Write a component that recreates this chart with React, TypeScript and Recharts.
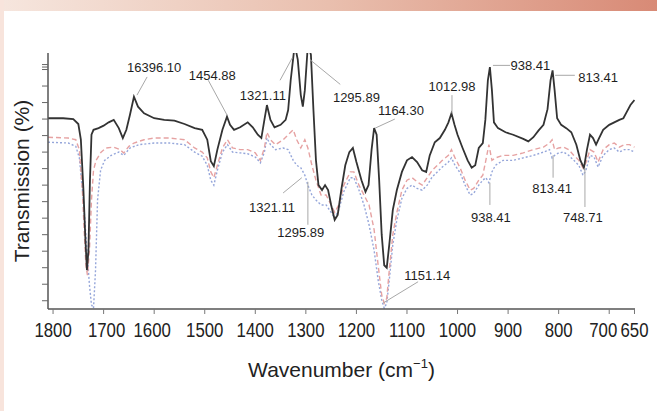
import { LineChart, Line, XAxis, YAxis, ReferenceLine, ReferenceDot } from "recharts";

// FTIR spectra, [wavenumber (cm-1), transmission (arb. units)]
const solidTrace: [number, number][] = [
  [1810, 23.1], [1780, 23.1], [1760, 23.0], [1750, 22.4], [1745, 20.5], [1740, 14.5],
  [1736, 8.4], [1733, 4.7], [1730, 7.1], [1727, 15.6], [1724, 21.1], [1720, 21.7],
  [1710, 21.9], [1700, 22.2], [1690, 22.6], [1680, 22.9], [1670, 21.9], [1662, 20.7],
  [1655, 21.7], [1648, 23.5], [1640, 25.7], [1632, 24.5], [1620, 23.7], [1600, 23.1],
  [1580, 22.9], [1560, 22.8], [1540, 22.4], [1520, 21.9], [1505, 21.7], [1495, 20.5],
  [1488, 17.9], [1482, 17.3], [1475, 19.3], [1465, 21.7], [1456, 23.3], [1450, 22.3],
  [1442, 21.7], [1430, 22.0], [1415, 22.6], [1405, 22.0], [1395, 21.1], [1388, 20.7],
  [1382, 22.9], [1377, 24.7], [1370, 22.9], [1362, 22.0], [1350, 22.3], [1340, 22.9],
  [1335, 24.1], [1330, 27.7], [1322, 32.0], [1316, 30.2], [1310, 25.9], [1306, 24.5],
  [1302, 26.5], [1296, 32.0], [1290, 30.8], [1285, 24.1], [1280, 18.0], [1275, 15.0],
  [1268, 14.4], [1262, 15.0], [1256, 14.4], [1250, 12.6], [1243, 10.8], [1237, 11.4],
  [1230, 14.4], [1222, 17.4], [1214, 19.0], [1207, 19.5], [1200, 17.8], [1190, 15.6],
  [1182, 14.2], [1176, 15.0], [1170, 19.3], [1165, 21.9], [1160, 21.1], [1155, 15.6],
  [1150, 9.0], [1145, 5.3], [1140, 5.0], [1135, 7.8], [1128, 12.0], [1120, 14.4],
  [1110, 16.6], [1100, 18.0], [1090, 18.4], [1080, 17.8], [1070, 16.8], [1062, 16.6],
  [1055, 18.6], [1045, 20.2], [1035, 20.7], [1025, 21.7], [1018, 22.6], [1012, 23.7],
  [1006, 22.3], [1000, 21.1], [990, 19.5], [980, 18.0], [972, 17.1], [965, 17.4],
  [958, 19.5], [950, 20.1], [945, 22.9], [940, 27.7], [936, 29.3], [932, 26.5],
  [928, 22.6], [920, 21.9], [905, 21.4], [890, 21.1], [870, 20.6], [860, 20.3],
  [850, 20.8], [840, 21.6], [830, 22.3], [822, 24.2], [816, 27.7], [812, 28.9],
  [808, 26.5], [803, 23.1], [795, 22.3], [785, 21.9], [775, 21.4], [765, 19.9],
  [757, 18.0], [750, 17.1], [744, 19.3], [738, 21.1], [732, 20.7], [726, 19.9],
  [720, 20.7], [712, 21.7], [700, 22.3], [690, 22.6], [680, 22.9], [672, 23.1],
  [665, 23.9], [658, 24.7], [650, 25.3],
];

const dashedTrace: [number, number][] = [
  [1810, 20.8], [1770, 20.7], [1755, 20.5], [1748, 19.3], [1742, 14.4], [1738, 9.0],
  [1735, 5.3], [1732, 4.1], [1728, 7.1], [1724, 13.2], [1720, 16.8], [1715, 18.0],
  [1705, 19.0], [1695, 19.5], [1680, 19.6], [1668, 19.3], [1660, 18.9], [1650, 19.7],
  [1640, 20.1], [1620, 20.5], [1600, 20.7], [1570, 20.7], [1540, 20.5], [1520, 19.5],
  [1505, 19.0], [1495, 18.3], [1488, 16.6], [1482, 15.9], [1475, 17.4], [1465, 19.5],
  [1455, 20.5], [1445, 19.5], [1430, 19.3], [1415, 19.3], [1400, 18.9], [1390, 18.0],
  [1382, 19.5], [1377, 21.4], [1370, 20.5], [1360, 19.9], [1345, 20.5], [1335, 21.1],
  [1325, 21.7], [1318, 20.5], [1310, 19.5], [1302, 20.5], [1296, 19.5], [1288, 17.4],
  [1280, 15.6], [1270, 13.8], [1260, 13.8], [1250, 12.6], [1243, 11.7], [1235, 12.6],
  [1225, 15.0], [1212, 16.6], [1205, 16.6], [1195, 15.0], [1185, 13.8], [1175, 12.6],
  [1165, 9.6], [1157, 5.3], [1150, 1.7], [1145, 0.7], [1140, 1.3], [1135, 4.7],
  [1128, 9.0], [1120, 11.7], [1110, 14.4], [1100, 15.6], [1090, 15.9], [1080, 15.4],
  [1070, 15.0], [1060, 15.9], [1050, 16.8], [1040, 17.4], [1030, 18.0], [1018, 18.6],
  [1012, 19.3], [1005, 18.3], [995, 17.1], [985, 15.6], [975, 14.4], [968, 14.6],
  [958, 15.6], [950, 16.2], [944, 18.0], [938, 19.9], [932, 18.0], [925, 18.3],
  [910, 18.6], [890, 18.6], [870, 18.9], [850, 19.3], [830, 19.6], [818, 20.1],
  [813, 20.5], [808, 19.3], [800, 19.5], [790, 19.6], [780, 19.3], [770, 18.6],
  [760, 18.0], [752, 17.1], [746, 17.7], [738, 19.3], [730, 19.0], [722, 17.8],
  [712, 19.3], [700, 19.9], [690, 20.1], [680, 19.6], [670, 19.9], [660, 19.9],
  [650, 19.6],
];

const dottedTrace: [number, number][] = [
  [1810, 20.2], [1770, 20.1], [1755, 19.7], [1748, 18.3], [1740, 13.2], [1733, 7.1],
  [1728, 2.9], [1724, 0.5], [1720, 0.1], [1716, 4.7], [1712, 13.2], [1706, 16.8],
  [1698, 18.0], [1685, 18.6], [1670, 19.0], [1660, 18.6], [1648, 19.5], [1630, 19.9],
  [1600, 20.1], [1570, 20.1], [1540, 19.9], [1520, 19.0], [1505, 18.5], [1495, 17.4],
  [1488, 15.6], [1482, 15.0], [1475, 16.8], [1465, 19.0], [1455, 19.9], [1445, 19.0],
  [1430, 18.9], [1415, 18.8], [1400, 18.4], [1390, 17.7], [1382, 19.0], [1377, 20.7],
  [1370, 19.9], [1360, 19.3], [1345, 19.5], [1335, 19.3], [1325, 18.0], [1318, 17.4],
  [1310, 17.1], [1302, 16.2], [1296, 15.0], [1288, 13.8], [1280, 13.2], [1270, 12.6],
  [1260, 12.6], [1250, 11.7], [1243, 11.0], [1235, 12.0], [1225, 14.2], [1212, 15.9],
  [1205, 15.9], [1195, 14.4], [1185, 12.6], [1175, 10.2], [1165, 7.1], [1157, 3.5],
  [1150, 1.1], [1145, 0.1], [1140, 0.7], [1135, 3.5], [1128, 7.8], [1120, 10.8],
  [1110, 13.4], [1100, 14.6], [1090, 15.0], [1080, 14.6], [1070, 14.4], [1060, 15.0],
  [1050, 16.0], [1040, 16.6], [1030, 17.2], [1018, 17.8], [1012, 18.3], [1005, 17.4],
  [995, 16.5], [985, 15.0], [975, 13.8], [968, 14.0], [958, 15.0], [950, 15.6],
  [944, 15.9], [938, 15.3], [932, 16.6], [925, 17.4], [910, 18.0], [890, 18.0],
  [870, 18.3], [850, 18.6], [830, 19.0], [818, 19.3], [813, 18.3], [808, 18.6],
  [800, 18.9], [790, 19.0], [780, 18.6], [770, 18.0], [760, 17.4], [752, 16.2],
  [746, 16.8], [738, 18.6], [730, 18.4], [722, 17.2], [712, 18.6], [700, 19.3],
  [690, 19.5], [680, 19.0], [670, 19.3], [660, 19.3], [650, 19.0],
];

const xTicks = [1800, 1700, 1600, 1500, 1400, 1300, 1200, 1100, 1000, 900, 800, 700, 650];
const yTicks = [1, 3, 5, 7, 9, 11, 13, 15, 17, 19, 21, 23, 25, 27, 29, 29.3, 29.6];

// peak annotations: text, label centre and leader line, in data units
const peakNotes = [
  { text: "16396.10", at: [1600, 29.3], from: [1614, 28.1], to: [1634, 25.9] },
  { text: "1454.88", at: [1485, 28.3], from: [1493, 27.7], to: [1456, 23.5] },
  { text: "1321.11", at: [1385, 25.9], from: [1351, 27.7], to: [1327, 30.4] },
  { text: "1295.89", at: [1200, 25.6], from: [1292, 30.2], to: [1232, 27.2] },
  { text: "1164.30", at: [1112, 24.1], from: [1163, 21.9], to: [1124, 23.0] },
  { text: "1012.98", at: [1011, 26.9], from: [1011, 25.9], to: [1011, 23.7] },
  { text: "938.41", at: [856, 29.5], from: [930, 29.5], to: [896, 29.5] },
  { text: "813.41", at: [722, 28.1], from: [807, 28.3], to: [768, 28.3] },
  { text: "1321.11", at: [1367, 12.35], from: [1345, 14.05], to: [1308, 15.9] },
  { text: "1295.89", at: [1310, 9.3], from: [1296, 10.2], to: [1296, 15.4] },
  { text: "1151.14", at: [1060, 4.1], from: [1147, 0.73], to: [1078, 3.3] },
  { text: "938.41", at: [934, 11.1], from: [936, 15.3], to: [936, 12.6] },
  { text: "813.41", at: [813, 14.65], from: [811, 18.6], to: [811, 15.9] },
  { text: "748.71", at: [752, 11.1], from: [748, 17.1], to: [748, 12.35] },
];

const toPoints = (arr: [number, number][]) => arr.map(([w, t]) => ({ w, t }));

const FONT = "'Liberation Sans', Arial, Helvetica, sans-serif";

// the tick numbers in the figure are set in a condensed face
const tickShift: Record<number, number> = { 1700: 3, 1600: -2, 700: -6 };

const XTick = (props: any) => {
  const { x, y, payload } = props;
  return (
    <g transform={`translate(${x + (tickShift[payload.value] || 0)},${y})`}>
      <text
        transform="scale(0.8,1)"
        dy="0.71em"
        textAnchor="middle"
        fontSize={21}
        fontFamily={FONT}
        fill="#222"
      >
        {payload.value}
      </text>
    </g>
  );
};

const NoLabel = () => <g />;

export default function App() {
  return (
    <div
      style={{
        position: "absolute",
        left: 0,
        top: 0,
        width: 657,
        height: 411,
        background: "#fff",
        overflow: "hidden",
        fontFamily: FONT,
      }}
    >
      <div
        style={{
          position: "absolute",
          left: 0,
          top: 0,
          width: 657,
          height: 11,
          background: "linear-gradient(to right, #f6e6de, #e9bfae 50%, #d88a76)",
        }}
      />
      <div
        style={{ position: "absolute", left: 0, top: 0, width: 4, height: 411, background: "#f8e4dc" }}
      />

      <div style={{ position: "absolute", left: 0, top: 0 }}>
        <LineChart width={657} height={411} margin={{ top: 53, right: 22, bottom: 72, left: 0 }}>
          <XAxis
            type="number"
            dataKey="w"
            domain={[649, 1810]}
            reversed
            ticks={xTicks}
            interval={0}
            allowDataOverflow
            height={30}
            tickSize={5}
            tickMargin={8}
            tick={<XTick />}
            axisLine={{ stroke: "#555", strokeWidth: 1.5 }}
            tickLine={{ stroke: "#777" }}
          />
          <YAxis
            type="number"
            domain={[0, 31]}
            ticks={yTicks}
            interval={0}
            allowDataOverflow
            width={48}
            tickSize={6}
            tick={<NoLabel />}
            axisLine={{ stroke: "#555", strokeWidth: 1.5 }}
            tickLine={{ stroke: "#666" }}
          />

          <Line
            data={toPoints(dottedTrace)}
            dataKey="t"
            type="linear"
            stroke="#95a6da"
            strokeWidth={1.4}
            strokeDasharray="2 2"
            dot={false}
            isAnimationActive={false}
          />
          <Line
            data={toPoints(dashedTrace)}
            dataKey="t"
            type="linear"
            stroke="#e6a2a2"
            strokeWidth={1.4}
            strokeDasharray="5 3"
            dot={false}
            isAnimationActive={false}
          />
          <Line
            data={toPoints(solidTrace)}
            dataKey="t"
            type="linear"
            stroke="#333"
            strokeWidth={1.8}
            dot={false}
            isAnimationActive={false}
          />

          {peakNotes.map((n, i) => (
            <ReferenceLine
              key={`l${i}`}
              segment={[
                { x: n.from[0], y: n.from[1] },
                { x: n.to[0], y: n.to[1] },
              ]}
              stroke="#a8a8a8"
              strokeWidth={1}
              ifOverflow="visible"
            />
          ))}
          {peakNotes.map((n, i) => (
            <ReferenceDot
              key={`d${i}`}
              x={n.at[0]}
              y={n.at[1]}
              r={1}
              fill="none"
              stroke="none"
              ifOverflow="visible"
              label={{ value: n.text, position: "center", fontSize: 13, fill: "#1e1e1e", fontFamily: FONT }}
            />
          ))}
        </LineChart>
      </div>

      <div
        style={{
          position: "absolute",
          left: 48,
          width: 587,
          top: 351,
          lineHeight: "26px",
          textAlign: "center",
          fontSize: 21,
          color: "#222",
        }}
      >
        Wavenumber (cm<sup style={{ fontSize: 13, verticalAlign: "9px" }}>−1</sup>)
      </div>
      <div
        style={{
          position: "absolute",
          left: 22,
          top: 181,
          transform: "translate(-50%, -50%) rotate(-90deg)",
          whiteSpace: "nowrap",
          fontSize: 21,
          color: "#222",
        }}
      >
        Transmission (%)
      </div>
    </div>
  );
}
